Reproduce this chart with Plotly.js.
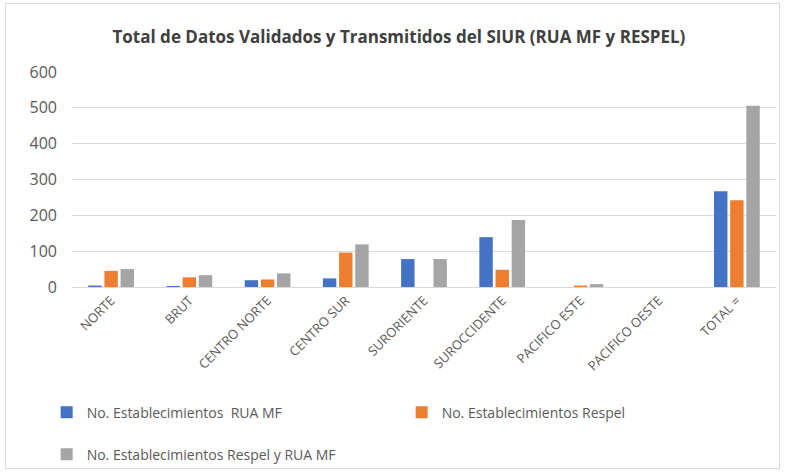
<!DOCTYPE html>
<html><head><meta charset="utf-8">
<script src="https://cdn.plot.ly/plotly-3.0.1.min.js"></script>
<style>
html,body{margin:0;padding:0;background:#fff;}
#wrap{position:relative;width:790px;height:474px;}
#frame{position:absolute;left:5px;top:3px;width:775px;height:466px;border:1px solid #d9d9d9;box-sizing:border-box;pointer-events:none;}
#chart{position:absolute;left:0;top:0;width:790px;height:474px;}
</style></head>
<body><div id="wrap"><div id="chart"></div><div id="frame"></div></div>
<script>
const categories = ["NORTE","BRUT","CENTRO NORTE","CENTRO SUR","SURORIENTE","SUROCCIDENTE","PACIFICO ESTE","PACIFICO OESTE","TOTAL ="];
const ruaMF = [4, 3, 19, 24, 78, 139, 0, 0, 267];
const respel = [45, 27, 21, 96, 0, 48, 4, 0, 242];
const respelYRua = [50, 33, 38, 119, 78, 187, 8, 0, 506];
const seriesNames = ["No. Establecimientos  RUA MF","No. Establecimientos Respel","No. Establecimientos Respel y RUA MF"];
const colors = ["#4472c4","#ed7d31","#a5a5a5"];
const legendIds = ["legend","legend","legend2"];
const FONT = "'Open Sans', sans-serif";
const vals = [ruaMF, respel, respelYRua];
const traces = vals.map((v,i)=>({
  type:'bar', x:categories, y:v, name:seriesNames[i], legend:legendIds[i],
  marker:{color:colors[i], line:{width:0}}, hoverinfo:'none'
}));
const legFont = {size:14, color:'#595959', family:FONT};
const layout = {
  width:790, height:474,
  margin:{l:72, r:14, t:72, b:187, autoexpand:false},
  paper_bgcolor:'rgba(0,0,0,0)', plot_bgcolor:'rgba(0,0,0,0)',
  font:{family:FONT, color:'#595959', size:15},
  title:{text:'<b>Total de Datos Validados y Transmitidos del SIUR (RUA MF y RESPEL)</b>', x:0.505, xanchor:'center', y:0.922, yanchor:'middle', font:{family:FONT, size:17, color:'#404040'}},
  bargap:0.38, bargroupgap:0.17,
  xaxis:{tickangle:-45, tickfont:{size:13, color:'#595959'}, showline:true, linecolor:'#d9d9d9', linewidth:1, ticks:'', showgrid:false, automargin:false},
  yaxis:{range:[0,600], dtick:100, gridcolor:'#d9d9d9', gridwidth:1, zeroline:false, showline:false, tickfont:{size:16, color:'#595959'}, ticklabelstandoff:14, automargin:false},
  showlegend:true,
  legend:{orientation:'h', x:-0.036, xanchor:'left', y:-0.51, yanchor:'top', entrywidth:310, entrywidthmode:'pixels', font:legFont, itemwidth:30},
  legend2:{orientation:'h', x:-0.036, xanchor:'left', y:-0.705, yanchor:'top', font:legFont, itemwidth:30}
};
Plotly.newPlot('chart', traces, layout, {staticPlot:true, displayModeBar:false});
</script></body></html>
